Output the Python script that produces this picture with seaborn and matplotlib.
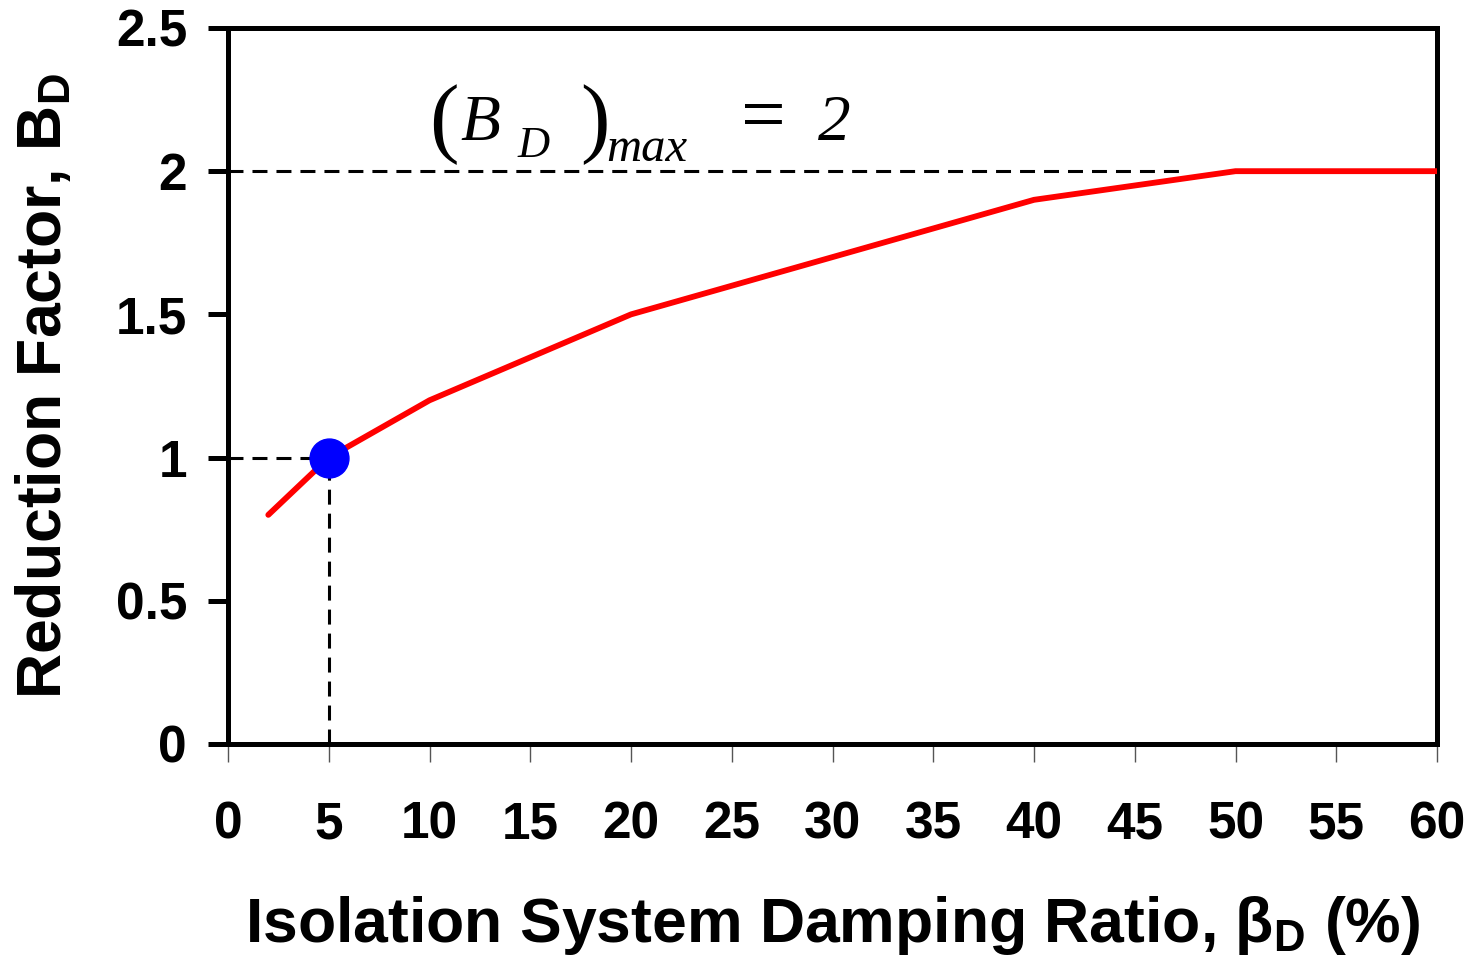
import matplotlib
matplotlib.use("Agg")
import matplotlib.pyplot as plt
from matplotlib import font_manager
import seaborn as sns
import pandas as pd

# Damping ratio (%) vs. damping reduction factor B_D
damping_pct = [2, 5, 10, 20, 30, 40, 50, 60]
reduction_factor = [0.8, 1.0, 1.2, 1.5, 1.7, 1.9, 2.0, 2.0]
ref_damping = 5
ref_factor = 1.0
bd_max = 2.0
bd_max_reached = 47.5

x_ticks = list(range(0, 61, 5))
y_ticks = [0, 0.5, 1, 1.5, 2, 2.5]

sns.set_theme(style="white")
plt.rcParams["font.family"] = ["Liberation Sans", "DejaVu Sans"]
plt.rcParams["mathtext.fontset"] = "custom"
plt.rcParams["mathtext.rm"] = "Liberation Sans:bold"
plt.rcParams["mathtext.bf"] = "Liberation Sans:bold"
plt.rcParams["text.color"] = "black"
plt.rcParams["axes.labelcolor"] = "black"
plt.rcParams["xtick.color"] = "black"
plt.rcParams["ytick.color"] = "black"

# condensed face for the x-axis title, if present
try:
    font_manager.findfont("Liberation Sans Narrow", fallback_to_default=False)
    xlabel_family, xlabel_size = "Liberation Sans Narrow", 56
except ValueError:
    xlabel_family, xlabel_size = "Liberation Sans", 45

df = pd.DataFrame({"damping": damping_pct, "factor": reduction_factor})

fig = plt.figure(figsize=(14.71, 9.58), dpi=100)
ax = fig.add_axes([0.155, 0.2234, 0.8219, 0.7474])

dash = (0, (4.9, 2.95))
ax.plot([0, ref_damping], [ref_factor, ref_factor], color="black", lw=2.2,
        ls=dash, zorder=2)
ax.plot([ref_damping, ref_damping], [0, ref_factor], color="black", lw=2.2,
        ls=dash, zorder=2)
ax.plot([0, bd_max_reached], [bd_max, bd_max], color="black", lw=2.2,
        ls=dash, zorder=2)

sns.lineplot(data=df, x="damping", y="factor", ax=ax, color="#ff0000",
             lw=4.2, solid_capstyle="round", zorder=3)
ax.plot([ref_damping], [ref_factor], "o", color="#0000ff", ms=28, zorder=4)

ax.set_xlim(0, 60)
ax.set_ylim(0, 2.5)
ax.set_xticks(x_ticks)
ax.set_yticks(y_ticks)
ax.set_yticklabels([f"{v:g}" for v in y_ticks])

for s in ax.spines.values():
    s.set_visible(True)
    s.set_color("black")
    s.set_linewidth(3.6)

ax.tick_params(axis="y", direction="out", length=14.5, width=3.6, color="black",
               pad=15, labelsize=37, left=True, labelcolor="black")
ax.tick_params(axis="x", direction="out", length=13, width=1, color="#555555",
               pad=28, labelsize=37, bottom=True, labelcolor="black")
for lbl in ax.get_xticklabels() + ax.get_yticklabels():
    lbl.set_fontweight("bold")

ax.set_xlabel(r"Isolation System Damping Ratio, $\mathregular{\beta_D}$ (%)",
              fontsize=xlabel_size, fontweight="bold", family=xlabel_family,
              labelpad=32, color="black")
ax.set_ylabel(r"Reduction Factor, $\mathregular{B_D}$", fontsize=45,
              fontweight="bold", labelpad=30, color="black")

# (B_D)_max = 2, set piece by piece in a serif italic
x0, w = 228.0, 1209.0
y_top, h = 28.0, 716.0

def put(s, px, py, size, style="italic"):
    ax.text((px - x0) / w, (y_top + h - py) / h, s, transform=ax.transAxes,
            fontsize=size, family="Liberation Serif", style=style,
            ha="left", va="baseline", color="black")

put("(", 429, 146, 64, "normal")
put("B", 460, 140, 47)
put("D", 517, 157, 32)
put(")", 580, 146, 64, "normal")
put("max", 606, 161, 35)
put("=", 741, 140, 57, "normal")
put("2", 818, 140, 47)

fig.savefig("out.png", dpi=100, facecolor="white")
